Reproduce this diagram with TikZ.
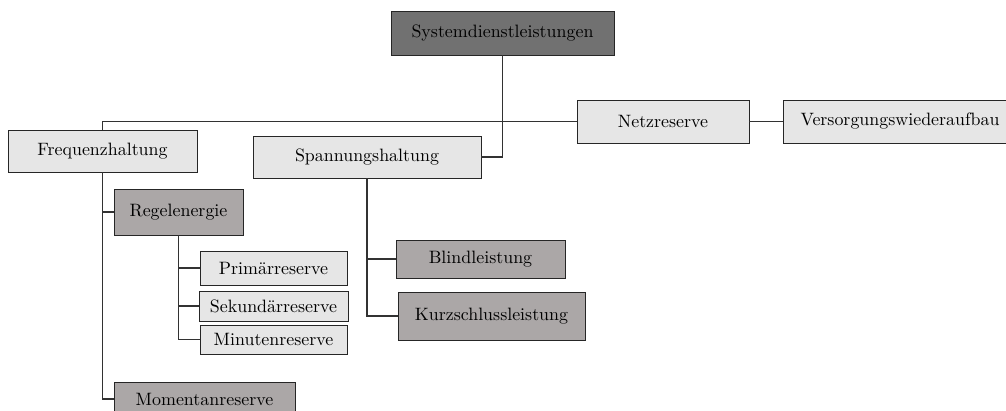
\documentclass[tikz,border=0pt]{standalone}
\usetikzlibrary{positioning}
\definecolor{darkbox}{RGB}{113,113,113}
\definecolor{midbox}{RGB}{171,167,167}
\definecolor{lightbox}{RGB}{230,230,230}
\definecolor{linec}{RGB}{50,50,50}
\def\pxu{0.575pt}
\tikzset{
  box/.style 2 args={draw=black!85, line width=0.55pt, inner sep=0pt,
    minimum width=#1*\pxu, minimum height=#2*\pxu, font=\fontsize{10.3}{12}\selectfont},
  lbox/.style={fill=lightbox},
  mbox/.style={fill=midbox},
  dbox/.style={fill=darkbox},
  conn/.style={draw=linec, line width=0.6pt},
}
\begin{document}
\begin{tikzpicture}[x=0.575pt, y=-0.575pt]
\clip (0,0) rectangle (1006,410);
\node[box={223}{44}, dbox] (sys) at (502.5,33) {Systemdienstleistungen};
\node[box={189}{42}, lbox] (freq) at (102.5,151) {Frequenzhaltung};
\node[box={228}{42}, lbox] (spann) at (367,157) {Spannungshaltung};
\node[box={172}{43}, lbox] (netz) at (663,121.5) {Netzreserve};
\node[box={234}{43}, lbox] (vers) at (900,121.5) {Versorgungswiederaufbau};
\node[box={129}{46}, mbox] (regel) at (178.5,212) {Regelenergie};
\node[box={147}{34}, lbox] (prim) at (273.5,268) {Primärreserve};
\node[box={149}{30}, lbox] (sek) at (273.5,306) {Sekundärreserve};
\node[box={147}{29}, lbox] (minr) at (273.5,339.5) {Minutenreserve};
\node[box={181}{34}, mbox] (moment) at (204.5,399) {Momentanreserve};
\node[box={169}{38}, mbox] (blind) at (480.5,259) {Blindleistung};
\node[box={187}{48}, mbox] (kurz) at (491.5,316) {Kurzschlussleistung};
\draw[conn] (freq.north) |- (netz.west);
\draw[conn] (sys.south) |- (spann.east);
\draw[conn] (netz.east) -- (vers.west);
\draw[conn] (freq.south) |- (regel.west);
\draw[conn] (freq.south) |- (moment.west);
\draw[conn] (regel.south) |- (prim.west);
\draw[conn] (regel.south) |- (sek.west);
\draw[conn] (regel.south) |- (minr.west);
\draw[conn] (spann.south) |- (blind.west);
\draw[conn] (spann.south) |- (kurz.west);
\end{tikzpicture}
\end{document}
